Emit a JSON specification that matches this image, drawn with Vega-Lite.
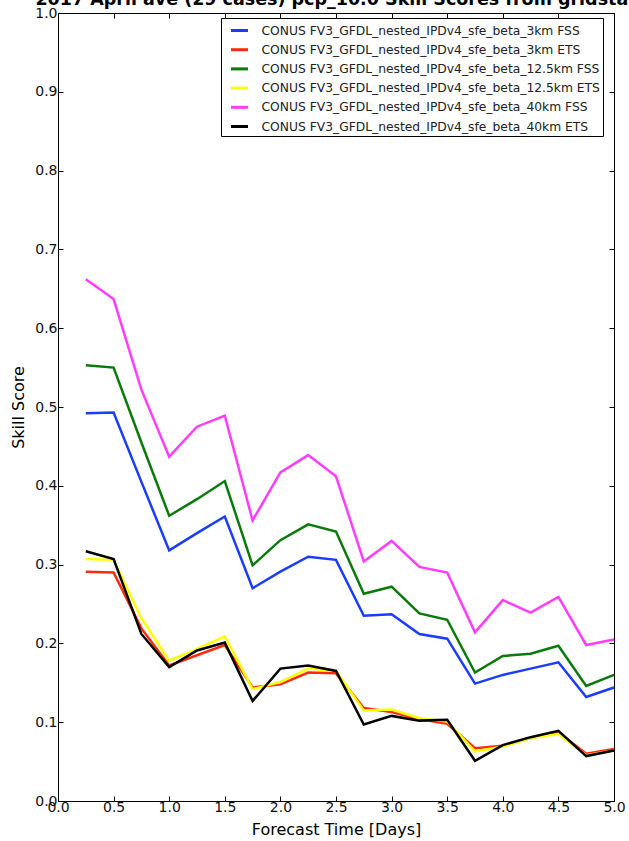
{
  "$schema": "https://vega.github.io/schema/vega-lite/v6.json",
  "width": 556,
  "height": 788,
  "autosize": {"type": "none"},
  "padding": {"left": 58, "top": 13, "right": 15, "bottom": 40},
  "background": "white",
  "config": {
    "font": "DejaVu Sans",
    "view": {"stroke": "black", "strokeWidth": 1},
    "axis": {
      "grid": false,
      "domain": false,
      "tickColor": "black",
      "tickSize": -5,
      "tickWidth": 1,
      "labelColor": "#111111",
      "labelFontSize": 14,
      "labelFont": "DejaVu Sans",
      "titleFont": "DejaVu Sans",
      "titleFontSize": 16,
      "titleFontWeight": "normal",
      "titleColor": "black"
    }
  },
  "title": {
    "text": "2017 April ave (29 cases) pcp_10.0 Skill Scores from gridstat",
    "font": "DejaVu Sans",
    "fontSize": 17.5,
    "fontWeight": "bold",
    "color": "black",
    "anchor": "middle",
    "baseline": "alphabetic",
    "offset": 0,
    "dy": 16
  },
  "data": {
    "values": [
      {"day": 0.25, "series": "CONUS FV3_GFDL_nested_IPDv4_sfe_beta_3km FSS", "score": 0.492},
      {"day": 0.5, "series": "CONUS FV3_GFDL_nested_IPDv4_sfe_beta_3km FSS", "score": 0.493},
      {"day": 0.75, "series": "CONUS FV3_GFDL_nested_IPDv4_sfe_beta_3km FSS", "score": 0.405},
      {"day": 1.0, "series": "CONUS FV3_GFDL_nested_IPDv4_sfe_beta_3km FSS", "score": 0.318},
      {"day": 1.25, "series": "CONUS FV3_GFDL_nested_IPDv4_sfe_beta_3km FSS", "score": 0.340},
      {"day": 1.5, "series": "CONUS FV3_GFDL_nested_IPDv4_sfe_beta_3km FSS", "score": 0.361},
      {"day": 1.75, "series": "CONUS FV3_GFDL_nested_IPDv4_sfe_beta_3km FSS", "score": 0.270},
      {"day": 2.0, "series": "CONUS FV3_GFDL_nested_IPDv4_sfe_beta_3km FSS", "score": 0.291},
      {"day": 2.25, "series": "CONUS FV3_GFDL_nested_IPDv4_sfe_beta_3km FSS", "score": 0.310},
      {"day": 2.5, "series": "CONUS FV3_GFDL_nested_IPDv4_sfe_beta_3km FSS", "score": 0.306},
      {"day": 2.75, "series": "CONUS FV3_GFDL_nested_IPDv4_sfe_beta_3km FSS", "score": 0.235},
      {"day": 3.0, "series": "CONUS FV3_GFDL_nested_IPDv4_sfe_beta_3km FSS", "score": 0.237},
      {"day": 3.25, "series": "CONUS FV3_GFDL_nested_IPDv4_sfe_beta_3km FSS", "score": 0.212},
      {"day": 3.5, "series": "CONUS FV3_GFDL_nested_IPDv4_sfe_beta_3km FSS", "score": 0.206},
      {"day": 3.75, "series": "CONUS FV3_GFDL_nested_IPDv4_sfe_beta_3km FSS", "score": 0.149},
      {"day": 4.0, "series": "CONUS FV3_GFDL_nested_IPDv4_sfe_beta_3km FSS", "score": 0.160},
      {"day": 4.25, "series": "CONUS FV3_GFDL_nested_IPDv4_sfe_beta_3km FSS", "score": 0.168},
      {"day": 4.5, "series": "CONUS FV3_GFDL_nested_IPDv4_sfe_beta_3km FSS", "score": 0.176},
      {"day": 4.75, "series": "CONUS FV3_GFDL_nested_IPDv4_sfe_beta_3km FSS", "score": 0.132},
      {"day": 5.0, "series": "CONUS FV3_GFDL_nested_IPDv4_sfe_beta_3km FSS", "score": 0.144},

      {"day": 0.25, "series": "CONUS FV3_GFDL_nested_IPDv4_sfe_beta_3km ETS", "score": 0.291},
      {"day": 0.5, "series": "CONUS FV3_GFDL_nested_IPDv4_sfe_beta_3km ETS", "score": 0.290},
      {"day": 0.75, "series": "CONUS FV3_GFDL_nested_IPDv4_sfe_beta_3km ETS", "score": 0.219},
      {"day": 1.0, "series": "CONUS FV3_GFDL_nested_IPDv4_sfe_beta_3km ETS", "score": 0.172},
      {"day": 1.25, "series": "CONUS FV3_GFDL_nested_IPDv4_sfe_beta_3km ETS", "score": 0.185},
      {"day": 1.5, "series": "CONUS FV3_GFDL_nested_IPDv4_sfe_beta_3km ETS", "score": 0.198},
      {"day": 1.75, "series": "CONUS FV3_GFDL_nested_IPDv4_sfe_beta_3km ETS", "score": 0.144},
      {"day": 2.0, "series": "CONUS FV3_GFDL_nested_IPDv4_sfe_beta_3km ETS", "score": 0.148},
      {"day": 2.25, "series": "CONUS FV3_GFDL_nested_IPDv4_sfe_beta_3km ETS", "score": 0.163},
      {"day": 2.5, "series": "CONUS FV3_GFDL_nested_IPDv4_sfe_beta_3km ETS", "score": 0.162},
      {"day": 2.75, "series": "CONUS FV3_GFDL_nested_IPDv4_sfe_beta_3km ETS", "score": 0.118},
      {"day": 3.0, "series": "CONUS FV3_GFDL_nested_IPDv4_sfe_beta_3km ETS", "score": 0.113},
      {"day": 3.25, "series": "CONUS FV3_GFDL_nested_IPDv4_sfe_beta_3km ETS", "score": 0.104},
      {"day": 3.5, "series": "CONUS FV3_GFDL_nested_IPDv4_sfe_beta_3km ETS", "score": 0.098},
      {"day": 3.75, "series": "CONUS FV3_GFDL_nested_IPDv4_sfe_beta_3km ETS", "score": 0.067},
      {"day": 4.0, "series": "CONUS FV3_GFDL_nested_IPDv4_sfe_beta_3km ETS", "score": 0.070},
      {"day": 4.25, "series": "CONUS FV3_GFDL_nested_IPDv4_sfe_beta_3km ETS", "score": 0.080},
      {"day": 4.5, "series": "CONUS FV3_GFDL_nested_IPDv4_sfe_beta_3km ETS", "score": 0.087},
      {"day": 4.75, "series": "CONUS FV3_GFDL_nested_IPDv4_sfe_beta_3km ETS", "score": 0.060},
      {"day": 5.0, "series": "CONUS FV3_GFDL_nested_IPDv4_sfe_beta_3km ETS", "score": 0.066},

      {"day": 0.25, "series": "CONUS FV3_GFDL_nested_IPDv4_sfe_beta_12.5km FSS", "score": 0.553},
      {"day": 0.5, "series": "CONUS FV3_GFDL_nested_IPDv4_sfe_beta_12.5km FSS", "score": 0.550},
      {"day": 0.75, "series": "CONUS FV3_GFDL_nested_IPDv4_sfe_beta_12.5km FSS", "score": 0.455},
      {"day": 1.0, "series": "CONUS FV3_GFDL_nested_IPDv4_sfe_beta_12.5km FSS", "score": 0.362},
      {"day": 1.25, "series": "CONUS FV3_GFDL_nested_IPDv4_sfe_beta_12.5km FSS", "score": 0.383},
      {"day": 1.5, "series": "CONUS FV3_GFDL_nested_IPDv4_sfe_beta_12.5km FSS", "score": 0.406},
      {"day": 1.75, "series": "CONUS FV3_GFDL_nested_IPDv4_sfe_beta_12.5km FSS", "score": 0.299},
      {"day": 2.0, "series": "CONUS FV3_GFDL_nested_IPDv4_sfe_beta_12.5km FSS", "score": 0.331},
      {"day": 2.25, "series": "CONUS FV3_GFDL_nested_IPDv4_sfe_beta_12.5km FSS", "score": 0.351},
      {"day": 2.5, "series": "CONUS FV3_GFDL_nested_IPDv4_sfe_beta_12.5km FSS", "score": 0.342},
      {"day": 2.75, "series": "CONUS FV3_GFDL_nested_IPDv4_sfe_beta_12.5km FSS", "score": 0.263},
      {"day": 3.0, "series": "CONUS FV3_GFDL_nested_IPDv4_sfe_beta_12.5km FSS", "score": 0.272},
      {"day": 3.25, "series": "CONUS FV3_GFDL_nested_IPDv4_sfe_beta_12.5km FSS", "score": 0.238},
      {"day": 3.5, "series": "CONUS FV3_GFDL_nested_IPDv4_sfe_beta_12.5km FSS", "score": 0.230},
      {"day": 3.75, "series": "CONUS FV3_GFDL_nested_IPDv4_sfe_beta_12.5km FSS", "score": 0.163},
      {"day": 4.0, "series": "CONUS FV3_GFDL_nested_IPDv4_sfe_beta_12.5km FSS", "score": 0.184},
      {"day": 4.25, "series": "CONUS FV3_GFDL_nested_IPDv4_sfe_beta_12.5km FSS", "score": 0.187},
      {"day": 4.5, "series": "CONUS FV3_GFDL_nested_IPDv4_sfe_beta_12.5km FSS", "score": 0.197},
      {"day": 4.75, "series": "CONUS FV3_GFDL_nested_IPDv4_sfe_beta_12.5km FSS", "score": 0.146},
      {"day": 5.0, "series": "CONUS FV3_GFDL_nested_IPDv4_sfe_beta_12.5km FSS", "score": 0.160},

      {"day": 0.25, "series": "CONUS FV3_GFDL_nested_IPDv4_sfe_beta_12.5km ETS", "score": 0.307},
      {"day": 0.5, "series": "CONUS FV3_GFDL_nested_IPDv4_sfe_beta_12.5km ETS", "score": 0.306},
      {"day": 0.75, "series": "CONUS FV3_GFDL_nested_IPDv4_sfe_beta_12.5km ETS", "score": 0.232},
      {"day": 1.0, "series": "CONUS FV3_GFDL_nested_IPDv4_sfe_beta_12.5km ETS", "score": 0.178},
      {"day": 1.25, "series": "CONUS FV3_GFDL_nested_IPDv4_sfe_beta_12.5km ETS", "score": 0.193},
      {"day": 1.5, "series": "CONUS FV3_GFDL_nested_IPDv4_sfe_beta_12.5km ETS", "score": 0.209},
      {"day": 1.75, "series": "CONUS FV3_GFDL_nested_IPDv4_sfe_beta_12.5km ETS", "score": 0.142},
      {"day": 2.0, "series": "CONUS FV3_GFDL_nested_IPDv4_sfe_beta_12.5km ETS", "score": 0.151},
      {"day": 2.25, "series": "CONUS FV3_GFDL_nested_IPDv4_sfe_beta_12.5km ETS", "score": 0.168},
      {"day": 2.5, "series": "CONUS FV3_GFDL_nested_IPDv4_sfe_beta_12.5km ETS", "score": 0.165},
      {"day": 2.75, "series": "CONUS FV3_GFDL_nested_IPDv4_sfe_beta_12.5km ETS", "score": 0.115},
      {"day": 3.0, "series": "CONUS FV3_GFDL_nested_IPDv4_sfe_beta_12.5km ETS", "score": 0.116},
      {"day": 3.25, "series": "CONUS FV3_GFDL_nested_IPDv4_sfe_beta_12.5km ETS", "score": 0.105},
      {"day": 3.5, "series": "CONUS FV3_GFDL_nested_IPDv4_sfe_beta_12.5km ETS", "score": 0.101},
      {"day": 3.75, "series": "CONUS FV3_GFDL_nested_IPDv4_sfe_beta_12.5km ETS", "score": 0.063},
      {"day": 4.0, "series": "CONUS FV3_GFDL_nested_IPDv4_sfe_beta_12.5km ETS", "score": 0.069},
      {"day": 4.25, "series": "CONUS FV3_GFDL_nested_IPDv4_sfe_beta_12.5km ETS", "score": 0.080},
      {"day": 4.5, "series": "CONUS FV3_GFDL_nested_IPDv4_sfe_beta_12.5km ETS", "score": 0.085},
      {"day": 4.75, "series": "CONUS FV3_GFDL_nested_IPDv4_sfe_beta_12.5km ETS", "score": 0.058},
      {"day": 5.0, "series": "CONUS FV3_GFDL_nested_IPDv4_sfe_beta_12.5km ETS", "score": 0.064},

      {"day": 0.25, "series": "CONUS FV3_GFDL_nested_IPDv4_sfe_beta_40km FSS", "score": 0.662},
      {"day": 0.5, "series": "CONUS FV3_GFDL_nested_IPDv4_sfe_beta_40km FSS", "score": 0.637},
      {"day": 0.75, "series": "CONUS FV3_GFDL_nested_IPDv4_sfe_beta_40km FSS", "score": 0.522},
      {"day": 1.0, "series": "CONUS FV3_GFDL_nested_IPDv4_sfe_beta_40km FSS", "score": 0.437},
      {"day": 1.25, "series": "CONUS FV3_GFDL_nested_IPDv4_sfe_beta_40km FSS", "score": 0.475},
      {"day": 1.5, "series": "CONUS FV3_GFDL_nested_IPDv4_sfe_beta_40km FSS", "score": 0.489},
      {"day": 1.75, "series": "CONUS FV3_GFDL_nested_IPDv4_sfe_beta_40km FSS", "score": 0.356},
      {"day": 2.0, "series": "CONUS FV3_GFDL_nested_IPDv4_sfe_beta_40km FSS", "score": 0.417},
      {"day": 2.25, "series": "CONUS FV3_GFDL_nested_IPDv4_sfe_beta_40km FSS", "score": 0.439},
      {"day": 2.5, "series": "CONUS FV3_GFDL_nested_IPDv4_sfe_beta_40km FSS", "score": 0.412},
      {"day": 2.75, "series": "CONUS FV3_GFDL_nested_IPDv4_sfe_beta_40km FSS", "score": 0.304},
      {"day": 3.0, "series": "CONUS FV3_GFDL_nested_IPDv4_sfe_beta_40km FSS", "score": 0.330},
      {"day": 3.25, "series": "CONUS FV3_GFDL_nested_IPDv4_sfe_beta_40km FSS", "score": 0.297},
      {"day": 3.5, "series": "CONUS FV3_GFDL_nested_IPDv4_sfe_beta_40km FSS", "score": 0.290},
      {"day": 3.75, "series": "CONUS FV3_GFDL_nested_IPDv4_sfe_beta_40km FSS", "score": 0.214},
      {"day": 4.0, "series": "CONUS FV3_GFDL_nested_IPDv4_sfe_beta_40km FSS", "score": 0.255},
      {"day": 4.25, "series": "CONUS FV3_GFDL_nested_IPDv4_sfe_beta_40km FSS", "score": 0.239},
      {"day": 4.5, "series": "CONUS FV3_GFDL_nested_IPDv4_sfe_beta_40km FSS", "score": 0.259},
      {"day": 4.75, "series": "CONUS FV3_GFDL_nested_IPDv4_sfe_beta_40km FSS", "score": 0.198},
      {"day": 5.0, "series": "CONUS FV3_GFDL_nested_IPDv4_sfe_beta_40km FSS", "score": 0.205},

      {"day": 0.25, "series": "CONUS FV3_GFDL_nested_IPDv4_sfe_beta_40km ETS", "score": 0.317},
      {"day": 0.5, "series": "CONUS FV3_GFDL_nested_IPDv4_sfe_beta_40km ETS", "score": 0.307},
      {"day": 0.75, "series": "CONUS FV3_GFDL_nested_IPDv4_sfe_beta_40km ETS", "score": 0.212},
      {"day": 1.0, "series": "CONUS FV3_GFDL_nested_IPDv4_sfe_beta_40km ETS", "score": 0.170},
      {"day": 1.25, "series": "CONUS FV3_GFDL_nested_IPDv4_sfe_beta_40km ETS", "score": 0.191},
      {"day": 1.5, "series": "CONUS FV3_GFDL_nested_IPDv4_sfe_beta_40km ETS", "score": 0.201},
      {"day": 1.75, "series": "CONUS FV3_GFDL_nested_IPDv4_sfe_beta_40km ETS", "score": 0.127},
      {"day": 2.0, "series": "CONUS FV3_GFDL_nested_IPDv4_sfe_beta_40km ETS", "score": 0.168},
      {"day": 2.25, "series": "CONUS FV3_GFDL_nested_IPDv4_sfe_beta_40km ETS", "score": 0.172},
      {"day": 2.5, "series": "CONUS FV3_GFDL_nested_IPDv4_sfe_beta_40km ETS", "score": 0.165},
      {"day": 2.75, "series": "CONUS FV3_GFDL_nested_IPDv4_sfe_beta_40km ETS", "score": 0.097},
      {"day": 3.0, "series": "CONUS FV3_GFDL_nested_IPDv4_sfe_beta_40km ETS", "score": 0.108},
      {"day": 3.25, "series": "CONUS FV3_GFDL_nested_IPDv4_sfe_beta_40km ETS", "score": 0.102},
      {"day": 3.5, "series": "CONUS FV3_GFDL_nested_IPDv4_sfe_beta_40km ETS", "score": 0.103},
      {"day": 3.75, "series": "CONUS FV3_GFDL_nested_IPDv4_sfe_beta_40km ETS", "score": 0.051},
      {"day": 4.0, "series": "CONUS FV3_GFDL_nested_IPDv4_sfe_beta_40km ETS", "score": 0.071},
      {"day": 4.25, "series": "CONUS FV3_GFDL_nested_IPDv4_sfe_beta_40km ETS", "score": 0.081},
      {"day": 4.5, "series": "CONUS FV3_GFDL_nested_IPDv4_sfe_beta_40km ETS", "score": 0.089},
      {"day": 4.75, "series": "CONUS FV3_GFDL_nested_IPDv4_sfe_beta_40km ETS", "score": 0.057},
      {"day": 5.0, "series": "CONUS FV3_GFDL_nested_IPDv4_sfe_beta_40km ETS", "score": 0.064}
    ]
  },
  "layer": [
    {
      "mark": {"type": "line", "strokeWidth": 2.5},
      "encoding": {
        "x": {
          "field": "day", "type": "quantitative",
          "scale": {"domain": [0, 5], "nice": false, "zero": false},
          "axis": {"title": "Forecast Time [Days]", "values": [0, 0.5, 1, 1.5, 2, 2.5, 3, 3.5, 4, 4.5, 5], "format": ".1f", "labelPadding": 4, "titlePadding": 7, "labelFlush": false}
        },
        "y": {
          "field": "score", "type": "quantitative",
          "scale": {"domain": [0, 1], "nice": false},
          "axis": {"title": "Skill Score", "values": [0, 0.1, 0.2, 0.3, 0.4, 0.5, 0.6, 0.7, 0.8, 0.9, 1.0], "format": ".1f", "labelPadding": 6, "titlePadding": 8, "labelFlush": false}
        },
        "color": {
          "field": "series", "type": "nominal",
          "scale": {
            "domain": [
              "CONUS FV3_GFDL_nested_IPDv4_sfe_beta_3km FSS",
              "CONUS FV3_GFDL_nested_IPDv4_sfe_beta_3km ETS",
              "CONUS FV3_GFDL_nested_IPDv4_sfe_beta_12.5km FSS",
              "CONUS FV3_GFDL_nested_IPDv4_sfe_beta_12.5km ETS",
              "CONUS FV3_GFDL_nested_IPDv4_sfe_beta_40km FSS",
              "CONUS FV3_GFDL_nested_IPDv4_sfe_beta_40km ETS"
            ],
            "range": ["#1a3cff", "#ff2a0a", "#0a7a0a", "#ffff00", "#ff3cff", "#000000"]
          },
          "legend": {
            "title": null,
            "orient": "none",
            "legendX": 163,
            "legendY": 5,
            "symbolType": "stroke",
            "symbolStrokeWidth": 3,
            "symbolSize": 289,
            "symbolOffset": 6,
            "labelFont": "DejaVu Sans",
            "labelFontSize": 12.3,
            "labelColor": "#222222",
            "labelLimit": 500,
            "labelOffset": 12,
            "rowPadding": 2.2,
            "padding": 2.5,
            "strokeColor": "black",
            "fillColor": "white"
          }
        }
      }
    },
    {
      "mark": {"type": "line", "strokeOpacity": 0},
      "encoding": {
        "x": {
          "field": "day", "type": "quantitative",
          "axis": {"orient": "top", "title": null, "labels": false, "values": [0, 0.5, 1, 1.5, 2, 2.5, 3, 3.5, 4, 4.5, 5]}
        },
        "y": {
          "field": "score", "type": "quantitative",
          "axis": {"orient": "right", "title": null, "labels": false, "values": [0, 0.1, 0.2, 0.3, 0.4, 0.5, 0.6, 0.7, 0.8, 0.9, 1.0]}
        },
        "detail": {"field": "series"}
      }
    }
  ],
  "resolve": {"axis": {"x": "independent", "y": "independent"}}
}
